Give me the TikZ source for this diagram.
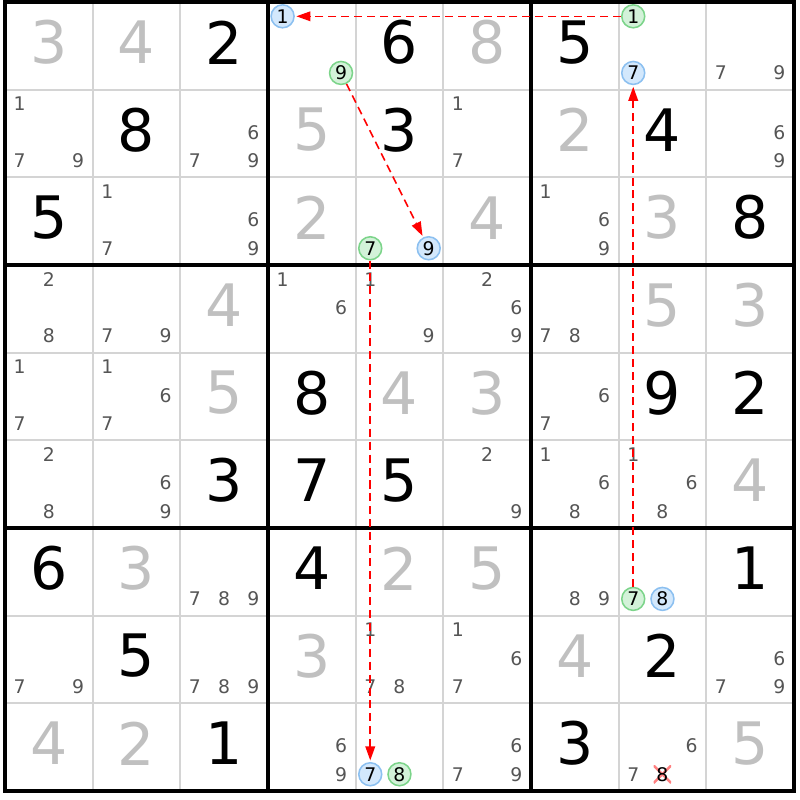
\documentclass[tikz,border=0pt]{standalone}
\usepackage{fontspec}
\setmainfont{DejaVu Sans}
\usetikzlibrary{arrows.meta}
\definecolor{solvedgray}{HTML}{C0C0C0}
\definecolor{candgray}{HTML}{555555}
\definecolor{thingrid}{HTML}{D4D4D4}
\definecolor{bfill}{HTML}{D3E8FC}
\definecolor{bline}{HTML}{8CC0F0}
\definecolor{gfill}{HTML}{D3F2D9}
\definecolor{gline}{HTML}{7CD48A}

\begin{document}
\begin{tikzpicture}
		[given/.style={font=\fontsize{19}{19}\selectfont, inner sep=0pt},
		 solved/.style={given, text=solvedgray},
		 cand/.style={font=\fontsize{6.1}{7}\selectfont, inner sep=0pt, text=candgray},
		 pick/.style={circle, draw=#1line, fill=#1fill, line width=0.5pt, minimum size=0.262cm, inner sep=0pt, font=\fontsize{6.1}{7}\selectfont},
		 struck/.style={cand, text=black, minimum size=0.2cm, path picture={
				\draw[red!50, line width=0.8pt] (path picture bounding box.north west) -- (path picture bounding box.south east)
					(path picture bounding box.south west) -- (path picture bounding box.north east);}},
		 link/.style={red, dash pattern=on 2.6pt off 1.6pt, line width=0.5pt, shorten >=0.5pt, -{Triangle[length=1.6mm, width=1.1mm]}}]
		\useasboundingbox (-0.057,0.023) rectangle (9.068,-9.103);
			\foreach \i in {1,...,8}{
				\draw[thingrid, line width=0.65pt] (\i,0) -- (\i,-9);
				\draw[thingrid, line width=0.65pt] (0,-\i) -- (9,-\i);
			}
			\foreach \i in {0,3,6,9}{
				\draw[line width=1.1pt] (\i,0.02) -- (\i,-9.02);
				\draw[line width=1.1pt] (-0.02,-\i) -- (9.02,-\i);
			}
			\foreach \r/\c/\d in {0/2/2, 0/4/6, 0/6/5, 1/1/8, 1/4/3, 1/7/4, 2/0/5, 2/8/8, 4/3/8, 4/7/9, 4/8/2,
				5/2/3, 5/3/7, 5/4/5, 6/0/6, 6/3/4, 6/8/1, 7/1/5, 7/7/2, 8/2/1, 8/6/3}{
				\node[given] (v-\r-\c) at (\c+0.5, -\r-0.46) {\d};
			}
			\foreach \r/\c/\d in {0/0/3, 0/1/4, 0/5/8, 1/3/5, 1/6/2, 2/3/2, 2/5/4, 2/7/3, 3/2/4, 3/7/5, 3/8/3, 4/2/5,
				4/4/4, 4/5/3, 5/8/4, 6/1/3, 6/4/2, 6/5/5, 7/3/3, 7/6/4, 8/0/4, 8/1/2, 8/8/5}{
				\node[solved] (v-\r-\c) at (\c+0.5, -\r-0.46) {\d};
			}
			\foreach \r/\c/\ds in {0/8/{7,9}, 1/0/{1,7,9}, 1/2/{6,7,9}, 1/5/{1,7}, 1/8/{6,9}, 2/1/{1,7}, 2/2/{6,9},
				2/6/{1,6,9}, 3/0/{2,8}, 3/1/{7,9}, 3/3/{1,6}, 3/4/{1,9}, 3/5/{2,6,9}, 3/6/{7,8}, 4/0/{1,7},
				4/1/{1,6,7}, 4/6/{6,7}, 5/0/{2,8}, 5/1/{6,9}, 5/5/{2,9}, 5/6/{1,6,8}, 5/7/{1,6,8}, 6/2/{7,8,9},
				6/6/{8,9}, 7/0/{7,9}, 7/2/{7,8,9}, 7/4/{1,7,8}, 7/5/{1,6,7}, 7/8/{6,7,9}, 8/3/{6,9},
				8/5/{6,7,9}, 8/7/{6,7}}{
				\foreach \d in \ds{
					\pgfmathsetmacro\cx{\c+1/6+mod(\d-1,3)/3}
					\pgfmathsetmacro\cy{-\r-0.163-0.323*int((\d-1)/3)}
					\node[cand] (c-\r-\c-\d) at (\cx,\cy) {\d};
				}
			}
			\foreach \r/\c/\d/\k in {0/3/1/b, 0/3/9/g, 0/7/1/g, 0/7/7/b, 2/4/7/g, 2/4/9/b, 6/7/7/g, 6/7/8/b, 8/4/7/b, 8/4/8/g}{
				\pgfmathsetmacro\cx{\c+1/6+mod(\d-1,3)/3}
				\pgfmathsetmacro\cy{-\r-0.163-0.323*int((\d-1)/3)}
				\node[pick=\k] (c-\r-\c-\d) at (\cx,\cy) {\d};
			}
			\node[struck] (c-8-7-8) at (7.5,-8.809) {8};

			\draw[link] (c-0-7-1) -- (c-0-3-1);
			\draw[link] (c-0-3-9) -- (c-2-4-9);
			\draw[link] (c-2-4-7) -- (c-8-4-7);
			\draw[link] (c-6-7-7) -- (c-0-7-7);
		\end{tikzpicture}
\end{document}
